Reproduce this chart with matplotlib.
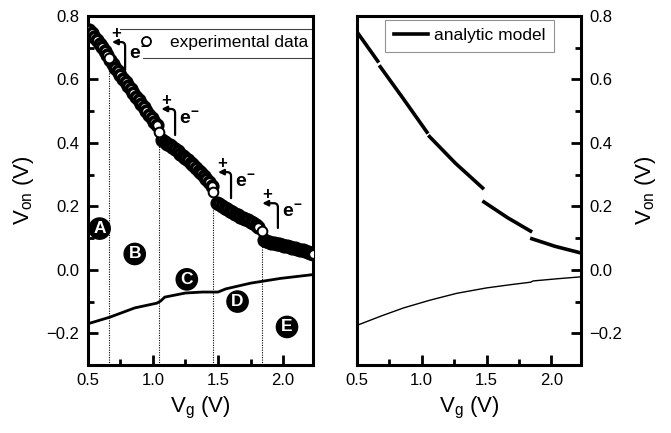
"""Turn-on voltage vs. gate voltage: measured data (left) vs. analytic model (right)."""

import numpy as np
import matplotlib.pyplot as plt
from matplotlib.ticker import MultipleLocator

plt.rcParams["font.family"] = ["Liberation Sans", "DejaVu Sans"]
plt.rcParams["mathtext.fontset"] = "custom"
plt.rcParams["mathtext.rm"] = "Liberation Sans"
plt.rcParams["mathtext.it"] = "Liberation Sans:italic"
plt.rcParams["mathtext.bf"] = "Liberation Sans:bold"

# --- experimental V_on, one array pair per charge state (hollow circle = last point before a jump)
EXP_X = [
    [0.51, 0.53, 0.55, 0.57, 0.59, 0.61, 0.63, 0.65],
    [0.67, 0.69, 0.71, 0.73, 0.75, 0.77, 0.79, 0.81, 0.83, 0.85, 0.87, 0.89, 0.91, 0.93,
     0.95, 0.97, 0.99, 1.01, 1.03],
    [1.07, 1.09, 1.11, 1.13, 1.15, 1.17, 1.19, 1.21, 1.23, 1.25, 1.27, 1.29, 1.31, 1.33,
     1.35, 1.37, 1.39, 1.41, 1.43, 1.45],
    [1.49, 1.51, 1.53, 1.55, 1.57, 1.59, 1.61, 1.63, 1.65, 1.67, 1.69, 1.71, 1.73, 1.75,
     1.77, 1.79, 1.81],
    [1.85, 1.87, 1.89, 1.91, 1.93, 1.95, 1.97, 1.99, 2.01, 2.03, 2.05, 2.07, 2.09, 2.11,
     2.13, 2.15, 2.17, 2.19, 2.21, 2.23],
]
EXP_Y = [
    [0.757, 0.746, 0.735, 0.724, 0.713, 0.701, 0.690, 0.678],
    [0.660, 0.649, 0.637, 0.626, 0.614, 0.603, 0.592, 0.580, 0.569, 0.557, 0.546, 0.535,
     0.523, 0.512, 0.500, 0.489, 0.478, 0.467, 0.455],
    [0.410, 0.404, 0.398, 0.392, 0.386, 0.380, 0.373, 0.366, 0.359, 0.352, 0.345, 0.337,
     0.329, 0.321, 0.313, 0.305, 0.296, 0.287, 0.277, 0.265],
    [0.212, 0.206, 0.200, 0.195, 0.191, 0.186, 0.182, 0.177, 0.172, 0.168, 0.164, 0.160,
     0.156, 0.152, 0.147, 0.141, 0.134],
    [0.095, 0.092, 0.089, 0.086, 0.084, 0.082, 0.080, 0.078, 0.076, 0.074, 0.072, 0.070,
     0.068, 0.066, 0.064, 0.062, 0.059, 0.056, 0.053, 0.050],
]
JUMP_X = [0.665, 1.05, 1.465, 1.835]
JUMP_Y = [0.667, 0.434, 0.245, 0.122]
DOT_TOP = [0.63, 0.39, 0.195, 0.09]

# lower (measured) curve
LOW_X = [0.50, 0.67, 0.86, 1.03, 1.06, 1.09, 1.25, 1.38, 1.50, 1.56, 1.75, 1.98, 2.23]
LOW_Y = [-0.170, -0.149, -0.120, -0.105, -0.098, -0.086, -0.073, -0.070, -0.070, -0.060,
         -0.042, -0.027, -0.015]

# analytic model (NaN = break between charge states)
MOD_X = [0.50, 0.66, np.nan, 0.68, 0.86, 1.04, np.nan, 1.06, 1.26, 1.47, np.nan,
         1.48, 1.66, 1.84, np.nan, 1.85, 2.03, 2.23]
MOD_Y = [0.750, 0.658, np.nan, 0.640, 0.538, 0.434, np.nan, 0.420, 0.336, 0.258, np.nan,
         0.214, 0.165, 0.122, np.nan, 0.098, 0.074, 0.053]
MOD_LOW_X = [0.50, 0.69, 0.86, 1.06, 1.27, 1.50, 1.70, 1.84, 1.86, 2.05, 2.23]
MOD_LOW_Y = [-0.175, -0.145, -0.120, -0.096, -0.074, -0.057, -0.046, -0.039, -0.035,
             -0.028, -0.022]

REGIONS = ["A", "B", "C", "D", "E"]
REGION_X = [0.59, 0.86, 1.26, 1.65, 2.03]
REGION_Y = [0.13, 0.05, -0.03, -0.10, -0.18]

# "+ / e-" capture arrows: (head x, head y), (tail x, tail y)
ARROW_HEAD = [(0.685, 0.718), (1.064, 0.507), (1.50, 0.308), (1.84, 0.210)]
ARROW_TAIL = [(0.786, 0.630), (1.170, 0.425), (1.60, 0.226), (1.96, 0.132)]


def style_axes(ax, side):
    ax.set_xlim(0.5, 2.23)
    ax.set_ylim(-0.3, 0.8)
    ax.xaxis.set_major_locator(MultipleLocator(0.5))
    ax.xaxis.set_minor_locator(MultipleLocator(0.25))
    ax.yaxis.set_major_locator(MultipleLocator(0.2))
    ax.yaxis.set_minor_locator(MultipleLocator(0.1))
    for sp in ax.spines.values():
        sp.set_linewidth(2.2)
    ax.tick_params(which="both", direction="in", width=2, labelsize=12, pad=6,
                   left=(side == "left"), right=(side == "right"),
                   labelleft=(side == "left"), labelright=(side == "right"), top=False)
    ax.tick_params(which="major", length=7)
    ax.tick_params(which="minor", length=4)
    ax.set_xlabel("V$_\\mathregular{g}$ (V)", fontsize=16, labelpad=5)
    if side == "right":
        ax.yaxis.set_label_position("right")
    ax.set_ylabel("V$_\\mathregular{on}$ (V)", fontsize=16, labelpad=8, rotation=90)


def main():
    fig = plt.figure(figsize=(6.71, 4.33), dpi=100)
    ax1 = fig.add_axes([0.131, 0.157, 0.3355, 0.806])
    ax2 = fig.add_axes([0.532, 0.157, 0.334, 0.806])

    # left: experiment
    for xs, ys in zip(EXP_X, EXP_Y):
        ax1.plot(xs, ys, "o", ms=7.5, mfc="white", mec="black", mew=2.7, zorder=3)
    ax1.plot(JUMP_X, JUMP_Y, "o", ms=7, mfc="white", mec="black", mew=1.4, zorder=4)
    ax1.vlines(JUMP_X, -0.3, DOT_TOP, colors="black", linestyles=(0, (1, 1.2)), lw=0.8)
    ax1.plot(LOW_X, LOW_Y, color="black", lw=2)

    for lab, x, y in zip(REGIONS, REGION_X, REGION_Y):
        ax1.text(x, y, lab, color="white", fontsize=12.5, fontweight="bold",
                 ha="center", va="center",
                 bbox=dict(boxstyle="circle,pad=0.18", fc="black", ec="black"))

    for head, tail in zip(ARROW_HEAD, ARROW_TAIL):
        ax1.annotate("", xy=head, xytext=tail,
                     arrowprops=dict(arrowstyle="-|>", color="black", lw=1.6,
                                     mutation_scale=8, shrinkA=0, shrinkB=0,
                                     connectionstyle="angle,angleA=90,angleB=0,rad=4"))
        ax1.text(head[0] + 0.035, head[1] + 0.004, "+", fontsize=12, fontweight="bold",
                 ha="center", va="bottom")
        ax1.text(tail[0] + 0.03, tail[1] + 0.05, r"$\mathbf{e}^{\mathbf{-}}$", fontsize=14,
                 ha="left", va="center")

    # legend for the experiment: frame partly hidden behind the arrows, as in the figure
    proxy = plt.Line2D([], [], ls="none", marker="o", ms=6.5, mfc="white", mec="black", mew=1.3)
    ax1.legend([proxy], ["experimental data"], loc="upper right",
               bbox_to_anchor=(1.01, 0.966), borderaxespad=0, fontsize=12.5,
               frameon=False, handlelength=1.0, handletextpad=0.9, borderpad=0.4)
    ax1.plot([0.142, 1.0], [0.963, 0.963], color="#444444", lw=0.8,
             transform=ax1.transAxes, clip_on=False)
    ax1.plot([0.244, 1.0], [0.880, 0.880], color="#444444", lw=0.8,
             transform=ax1.transAxes, clip_on=False)
    style_axes(ax1, "left")

    # right: analytic model
    ax2.plot(MOD_X, MOD_Y, color="black", lw=2.6, label="analytic model")
    ax2.plot(MOD_LOW_X, MOD_LOW_Y, color="black", lw=1)
    leg2 = ax2.legend(loc="upper left", bbox_to_anchor=(0.125, 0.99), borderaxespad=0,
                      fontsize=12.5, frameon=True, fancybox=False, handlelength=2.0,
                      handletextpad=0.3, borderpad=0.5)
    leg2.get_frame().set_edgecolor("#777777")
    leg2.get_frame().set_linewidth(0.8)
    style_axes(ax2, "right")

    fig.savefig("out.png", dpi=100)


if __name__ == "__main__":
    main()
